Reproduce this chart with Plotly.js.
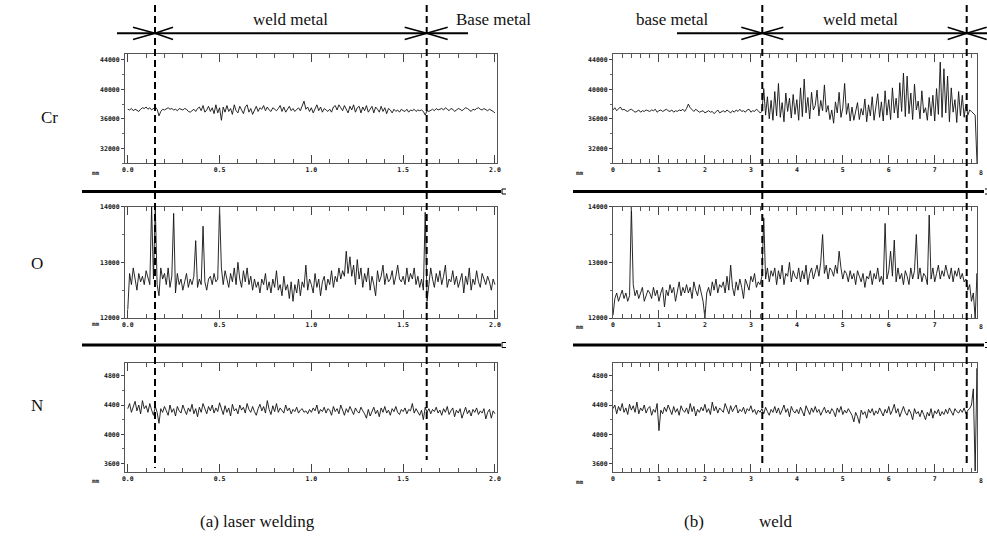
<!DOCTYPE html>
<html>
<head>
<meta charset="utf-8">
<script src="https://cdn.plot.ly/plotly-3.0.1.min.js"></script>
<style>html,body{margin:0;padding:0;background:#fff;}#chart{width:987px;height:542px;}</style>
</head>
<body>
<div id="chart"></div>
<script>
// ---- data ----
// (a) laser welding: distance 0..2.0 mm, sample step 0.01 mm
const laserStep = 0.01;
const laserCr = [
37300,37200,37400,37100,37300,37200,37000,37300,37500,37400,
37600,37300,37500,37200,37400,37600,37300,36400,37000,37300,
37200,37400,37500,37300,37400,37200,37300,37100,37400,37300,
37200,37400,37300,37000,36900,37100,37300,37000,37400,37600,
37100,37800,36900,37200,37700,37000,37500,36700,37900,36800,
37500,35800,37600,36900,37800,37000,37400,36600,37900,37100,
36800,37700,37200,36700,37600,37900,36900,37400,36600,37300,
37700,37000,37500,37300,37800,37100,37600,37200,37000,37500,
37300,37100,37400,37800,37000,37600,36900,37300,37700,37100,
37400,37000,37200,37500,37100,37700,38400,37300,37600,37000,
37500,36800,37300,37900,37100,37600,36900,37400,37200,37000,
37300,36900,37600,37800,37200,37900,37500,37100,37800,37300,
36800,37700,37200,37900,36900,37500,37700,36800,37600,37100,
37800,36900,37400,37700,36800,37600,37300,36900,37700,37000,
37500,36700,37400,37200,36800,37300,37000,37200,36900,37300,
37100,37000,37300,36900,37200,37100,37300,37000,37200,37100,
37200,37000,36500,37100,37000,37200,37300,37100,37400,37200,
37300,37400,37200,37500,37300,37100,37400,37300,37000,37200,
37400,37300,37100,37300,37500,37400,37200,37000,37300,37200,
37400,37500,37300,37200,37400,37300,37100,37300,37200,37000,
36800];
const laserO = [
12150,12800,12600,12900,12700,12500,12800,12650,12750,12600,
12850,12700,12600,14000,12700,14000,12600,12400,12900,12700,
12800,12600,12900,12550,12750,13880,12450,12800,12600,12700,
12500,12650,12800,12550,12700,12600,12750,13390,12550,12700,
12600,13650,12650,12500,12700,12750,12600,12800,12650,12700,
14000,12900,12600,12850,12700,12550,12800,12650,12900,12600,
13000,12700,12550,12850,12650,12900,12600,12750,12500,12700,
12550,12650,12450,12700,12600,12800,12500,12650,12450,12700,
12550,12850,12500,12600,12400,12750,12500,12600,12350,12650,
12300,12600,12450,12700,12400,12650,12550,12950,12500,12700,
12600,12450,12800,12550,12700,12400,12650,12750,12500,12700,
12600,12850,12550,12750,12650,12900,12700,12850,12750,13200,
12800,13100,12750,12950,12600,13050,12700,12900,12550,12800,
12650,12900,12500,12750,12600,12400,12850,12650,12750,12950,
12600,12800,12650,12700,12850,12600,12750,12950,12700,12650,
12750,12600,12900,12650,12800,12700,12900,12600,12750,12550,
12700,12500,13900,12300,12600,12900,12700,12550,12800,12650,
12850,12600,12750,12950,12550,12700,12650,12850,12600,12750,
12550,12700,12800,12450,12750,12600,12900,12500,12700,12600,
12850,12650,12550,12800,12700,12600,12750,12650,12500,12700,
12600];
const laserN = [
4350,4420,4300,4380,4450,4320,4400,4280,4460,4350,
4390,4300,4420,4330,4260,4380,4300,4150,4350,4300,
4380,4320,4260,4400,4300,4350,4250,4380,4320,4290,
4400,4330,4270,4360,4310,4410,4280,4350,4240,4370,
4300,4420,4340,4280,4380,4320,4400,4290,4360,4310,
4430,4330,4270,4390,4300,4360,4250,4410,4320,4350,
4280,4400,4330,4370,4290,4420,4340,4300,4380,4310,
4260,4350,4410,4320,4380,4290,4460,4340,4270,4390,
4310,4420,4300,4360,4330,4290,4400,4320,4360,4280,
4340,4310,4370,4290,4330,4350,4300,4320,4280,4340,
4300,4360,4320,4400,4280,4340,4310,4370,4290,4350,
4330,4260,4380,4310,4350,4280,4400,4320,4260,4350,
4300,4380,4330,4270,4360,4310,4290,4370,4320,4280,
4220,4340,4250,4310,4370,4280,4330,4240,4360,4300,
4380,4290,4330,4260,4350,4310,4380,4300,4270,4340,
4310,4360,4280,4340,4320,4420,4290,4350,4310,4260,
4330,4200,4370,4300,4350,4280,4340,4310,4370,4290,
4330,4260,4350,4300,4380,4270,4320,4360,4240,4330,
4290,4350,4220,4310,4370,4280,4330,4250,4340,4300,
4360,4270,4320,4290,4350,4210,4300,4340,4220,4320,
4280];

// (b) weld: distance 0..7.96 mm, sample step 0.04 mm
const weldStep = 0.04;
const weldCr = [
37200,37500,37100,37400,37600,37200,37300,37100,37000,37200,
37300,37100,36900,37000,37200,36900,37100,37000,37200,37100,
37000,37200,37100,37300,36900,37100,37200,37000,37100,37300,
37100,37000,37200,36900,37100,37000,37200,37100,37300,37000,
37400,38000,37500,37200,37000,37300,37100,36900,37000,37100,
36800,37000,37100,36900,37000,36700,37000,37200,36800,37000,
37100,36900,37200,37000,36800,37100,36900,37200,37000,37300,
37000,37100,36900,37200,37300,36900,37100,37000,37300,37100,
36800,37000,40100,36500,39000,36000,38500,35800,39700,36400,
40800,36200,38200,35600,39500,37000,38800,36100,39300,36600,
38600,35800,40200,36300,41400,36800,38900,36000,39600,37200,
37800,39900,36400,38500,37100,40600,36900,37800,35900,37200,
35400,38300,36800,39600,36200,37500,40800,36600,38100,35700,
37600,35800,36900,38200,35900,37400,36500,38700,35600,37900,
36400,39000,35800,37600,39400,36200,38300,35700,39800,36500,
38600,35900,40200,36800,38800,36100,40900,37000,42200,36300,
41800,36700,39500,35900,40700,37200,38400,36000,39800,36800,
37500,35800,38900,36400,39200,35700,40100,36600,43700,36200,
42800,36800,41800,35600,40200,36900,38600,35500,39700,36400,
39200,36200,38000,36500,37200,37000,36800,36500,30000,29000];
const weldO = [
12050,12350,12450,12300,12400,12500,12350,12450,12300,12400,
14000,12600,12400,12500,12350,12450,12550,12300,12400,12500,
12450,12350,12550,12400,12500,12300,12450,12550,12200,12500,
12400,12600,12450,12550,12300,12500,12650,12400,12550,12450,
12600,12450,12550,12350,12650,12500,12400,12600,12450,12300,
12000,12450,12550,12400,12650,12500,12700,12450,12600,12550,
12650,12450,12750,12500,12950,12550,12400,12650,12500,12700,
12550,12350,12700,12600,12500,12750,12650,12800,12550,12650,
12600,12750,13800,12700,12900,12650,12850,12750,12900,12600,
12850,12700,12950,12600,12800,12750,13000,12650,12850,12750,
12700,12900,12650,12850,12700,12950,12600,12800,12900,12700,
12850,12950,12750,13000,13500,12800,12950,12700,12900,12850,
12750,12950,12800,13200,12900,12700,12850,12800,12650,12850,
12700,12800,12600,12850,12750,12650,12800,12550,12750,12700,
12850,12600,12800,12700,12900,12650,12750,12600,13700,12700,
12850,13200,12750,13400,12650,12900,12700,12800,12600,12850,
12750,12600,12900,12700,12850,13500,12700,12900,12650,12800,
12750,12600,13850,12700,12900,12650,12800,12950,12700,12850,
12750,12950,12800,12700,12900,12650,12850,12750,12900,12700,
12800,12650,12700,12500,12600,12300,12450,12000,12800,12000];
const weldN = [
4350,4400,4280,4380,4320,4420,4300,4360,4270,4410,
4330,4390,4300,4440,4280,4360,4320,4400,4290,4350,
4380,4260,4340,4300,4420,4050,4330,4280,4370,4310,
4400,4320,4270,4380,4300,4350,4260,4390,4330,4300,
4360,4280,4420,4310,4380,4250,4340,4300,4370,4320,
4410,4300,4350,4270,4440,4320,4380,4290,4360,4330,
4300,4420,4340,4280,4390,4310,4360,4400,4290,4340,
4310,4370,4280,4350,4320,4390,4300,4340,4270,4330,
4300,4350,4280,4370,4310,4260,4340,4300,4380,4290,
4360,4270,4330,4400,4300,4350,4240,4380,4320,4290,
4340,4280,4370,4310,4250,4390,4330,4270,4360,4300,
4380,4300,4340,4260,4320,4370,4290,4330,4280,4350,
4310,4240,4360,4300,4380,4270,4330,4290,4350,4310,
4260,4170,4300,4240,4150,4330,4270,4310,4220,4340,
4290,4350,4260,4320,4280,4360,4300,4250,4340,4290,
4380,4270,4330,4410,4290,4350,4240,4320,4380,4300,
4260,4340,4290,4200,4350,4280,4310,4240,4330,4270,
4200,4300,4250,4350,4220,4320,4280,4340,4250,4310,
4270,4340,4280,4360,4300,4260,4350,4310,4290,4340,
4300,4360,4280,4330,4350,4400,4620,3500,4900,3500];

const rowLabels = ["Cr", "O", "N"];
const zoneLabelsA = ["weld metal", "Base metal"];
const zoneLabelsB = ["base metal", "weld metal"];
const captions = ["(a) laser welding", "(b)", "weld"];

// ---- layout helpers (pixel -> paper) ----
const W = 987, H = 542;
const X = p => p / W;
const Y = p => 1 - p / H;

const lineStyle = {color: '#111', width: 0.9};
const traces = [
  {y: laserCr, x0: 0, dx: laserStep, xaxis: 'x', yaxis: 'y'},
  {y: laserO, x0: 0, dx: laserStep, xaxis: 'x2', yaxis: 'y2'},
  {y: laserN, x0: 0, dx: laserStep, xaxis: 'x3', yaxis: 'y3'},
  {y: weldCr, x0: 0, dx: weldStep, xaxis: 'x4', yaxis: 'y4'},
  {y: weldO, x0: 0, dx: weldStep, xaxis: 'x5', yaxis: 'y5'},
  {y: weldN, x0: 0, dx: weldStep, xaxis: 'x6', yaxis: 'y6'}
].map(t => Object.assign(t, {type: 'scatter', mode: 'lines', line: lineStyle, hoverinfo: 'skip', showlegend: false}));

const tickFont = {family: 'DejaVu Sans Mono', size: 6.5, color: '#111', weight: 'bold'};
const leftDom = [X(125), X(497)];
const rightDom = [X(613), X(977)];
const rowDom = [[Y(163), Y(54)], [Y(318), Y(206.7)], [Y(471.7), Y(362.5)]];

function xAx(dom, anchor, left) {
  return {
    domain: dom, anchor: anchor,
    range: left ? [-0.015, 2.011] : [0, 7.92],
    tickmode: 'linear', tick0: 0, dtick: left ? 0.5 : 1,
    tickformat: left ? '.1f' : 'd',
    ticks: 'inside', ticklen: 8, tickwidth: 1, tickcolor: '#444',
    minor: {dtick: left ? 0.1 : 0.2, ticks: 'inside', ticklen: 4, tickwidth: 1, tickcolor: '#555'},
    showline: true, linecolor: '#555', linewidth: 1, mirror: 'allticks',
    showgrid: false, zeroline: false, tickfont: tickFont, fixedrange: true
  };
}
function yAx(dom, anchor, range, dtick) {
  return {
    domain: dom, anchor: anchor, range: range,
    tickmode: 'linear', tick0: 0, dtick: dtick, tickformat: 'd',
    ticks: 'outside', ticklen: 3, tickwidth: 1, tickcolor: '#444',
    minor: {dtick: dtick / 2, ticks: 'outside', ticklen: 2, tickwidth: 1, tickcolor: '#666'},
    showline: true, linecolor: '#555', linewidth: 1, mirror: true,
    showgrid: false, zeroline: false, tickfont: tickFont, fixedrange: true
  };
}
const crR = [30000, 44800], oR = [12000, 14000], nR = [3490, 4980];

const layout = {
  width: W, height: H, margin: {l: 0, r: 0, t: 0, b: 0},
  paper_bgcolor: '#fff', plot_bgcolor: '#fff', showlegend: false,
  xaxis: xAx(leftDom, 'y', true), yaxis: yAx(rowDom[0], 'x', crR, 4000),
  xaxis2: xAx(leftDom, 'y2', true), yaxis2: yAx(rowDom[1], 'x2', oR, 1000),
  xaxis3: xAx(leftDom, 'y3', true), yaxis3: yAx(rowDom[2], 'x3', nR, 400),
  xaxis4: xAx(rightDom, 'y4', false), yaxis4: yAx(rowDom[0], 'x4', crR, 4000),
  xaxis5: xAx(rightDom, 'y5', false), yaxis5: yAx(rowDom[1], 'x5', oR, 1000),
  xaxis6: xAx(rightDom, 'y6', false), yaxis6: yAx(rowDom[2], 'x6', nR, 400),
  shapes: [], annotations: []
};

// separators
function hline(x1, x2, y, w) {
  layout.shapes.push({type: 'line', xref: 'paper', yref: 'paper', x0: X(x1), x1: X(x2), y0: Y(y), y1: Y(y), line: {color: '#000', width: w}});
}
function seg(x1, y1, x2, y2, w, dash) {
  layout.shapes.push({type: 'line', xref: 'paper', yref: 'paper', x0: X(x1), x1: X(x2), y0: Y(y1), y1: Y(y2), line: {color: '#000', width: w, dash: dash || 'solid'}});
}
[191.5, 345].forEach(y => {
  hline(82, 501, y, 3); hline(573, 984, y, 3);
  seg(502, y - 2.5, 506, y - 2.5, 1); seg(502, y + 2.5, 506, y + 2.5, 1); seg(502, y - 2.5, 502, y + 2.5, 1);
  seg(985, y - 2.5, 987, y - 2.5, 1); seg(985, y + 2.5, 987, y + 2.5, 1);
});
// dashed boundary lines
[[155, 5, 468], [426.7, 5, 460], [762.3, 5, 463], [966.7, 5, 465]].forEach(d => seg(d[0], d[1], d[0], d[2], 2, '7px,4px'));
// arrows
seg(117, 33.3, 468, 33.3, 2);
seg(677, 33.3, 987, 33.3, 2);
function marker(xc, wl, wr) {
  seg(xc - wl, 27.3, xc, 33.3, 1.5); seg(xc - wl, 39.5, xc, 33.3, 1.5);
  seg(xc + wr, 27.3, xc, 33.3, 1.5); seg(xc + wr, 39.5, xc, 33.3, 1.5);
}
marker(155, 22, 18); marker(426.7, 22, 21); marker(762.3, 21, 21); marker(966.7, 19, 20);

const serif = 'Liberation Serif';
function txt(s, x, y, size, fam, extra) {
  layout.annotations.push(Object.assign({text: s, xref: 'paper', yref: 'paper', x: X(x), y: Y(y), showarrow: false,
    xanchor: 'center', yanchor: 'middle', font: {family: fam || serif, size: size, color: '#111'}}, extra || {}));
}
txt(zoneLabelsA[0], 290, 20, 17); txt(zoneLabelsA[1], 493, 20, 17);
txt(zoneLabelsB[0], 672, 20, 17); txt(zoneLabelsB[1], 860, 20, 17);
txt(rowLabels[0], 49, 118, 17); txt(rowLabels[1], 37, 263, 17); txt(rowLabels[2], 37, 405, 17);
txt(captions[0], 257, 521, 17); txt(captions[1], 694, 521, 17); txt(captions[2], 776, 521, 17);
// "mm" unit markers
[[96, 172.5], [96, 323.3], [96, 480], [580, 172.7], [580, 326.7], [580, 481]].forEach(p => txt('mm', p[0], p[1], 6, 'DejaVu Sans Mono', {font: {family: 'DejaVu Sans Mono', size: 6, color: '#222', weight: 'bold'}}));
// end label "8" on right axes
[[172.7], [326.7], [481]].forEach(p => {
  layout.annotations.push({text: '8', xref: 'paper', yref: 'paper', x: X(980.7), y: Y(p[0]), showarrow: false,
    xanchor: 'center', yanchor: 'middle', font: tickFont});
});

Plotly.newPlot('chart', traces, layout, {staticPlot: true, displayModeBar: false});
</script>
</body>
</html>
